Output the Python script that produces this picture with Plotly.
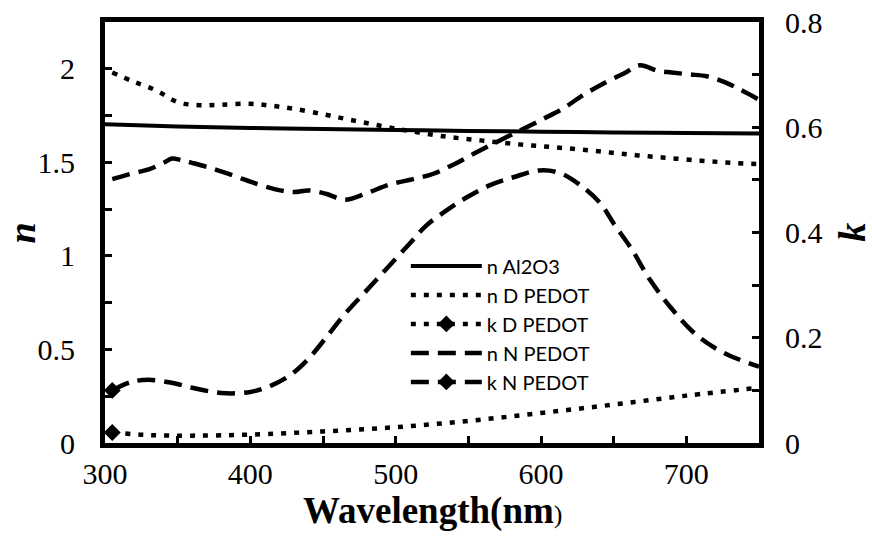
import plotly.graph_objects as go

# ---- data ----
wl_al = [300, 350, 400, 450, 500, 550, 600, 650, 700, 750]
n_al = [1.703, 1.692, 1.684, 1.678, 1.673, 1.668, 1.664, 1.660, 1.657, 1.654]

wl_nd = [305, 320, 335, 350, 365, 380, 400, 415, 430, 450, 465, 480, 495, 510,
         535, 560, 585, 610, 635, 660, 685, 710, 730, 750]
n_nd = [1.98, 1.93, 1.885, 1.822, 1.805, 1.808, 1.813, 1.802, 1.786, 1.757, 1.733,
        1.71, 1.687, 1.667, 1.637, 1.616, 1.596, 1.58, 1.563, 1.542, 1.525, 1.509,
        1.498, 1.49]

wl_kd = [305, 330, 360, 400, 450, 500, 550, 600, 650, 700, 750]
k_kd = [0.02, 0.015, 0.014, 0.016, 0.022, 0.03, 0.042, 0.057, 0.073, 0.09, 0.105]

wl_nn = [305, 320, 330, 340, 346, 352, 360, 372, 388, 402, 418, 430, 440, 452, 465,
         480, 496, 512, 526, 541, 556, 572, 588, 602, 615, 629, 643, 657, 668, 680,
         690, 702, 714, 726, 737, 750]
n_nn = [1.41, 1.443, 1.462, 1.496, 1.52, 1.513, 1.497, 1.471, 1.43, 1.391, 1.354,
        1.341, 1.35, 1.332, 1.30, 1.335, 1.382, 1.41, 1.439, 1.493, 1.555, 1.618,
        1.68, 1.734, 1.787, 1.859, 1.921, 1.975, 2.019, 1.99, 1.98, 1.97, 1.96,
        1.93, 1.889, 1.835]

wl_kn = [305, 318, 330, 345, 360, 380, 400, 415, 428, 440, 452, 465, 480, 495, 510,
         521, 535, 549, 565, 581, 599, 613, 627, 641, 650, 662, 675, 690, 705, 720,
         735, 750]
k_kn = [0.10, 0.116, 0.12, 0.115, 0.105, 0.095, 0.097, 0.11, 0.13, 0.16, 0.2, 0.245,
        0.29, 0.335, 0.38, 0.413, 0.442, 0.467, 0.49, 0.505, 0.518, 0.513, 0.49,
        0.455, 0.417, 0.37, 0.31, 0.255, 0.21, 0.18, 0.16, 0.145]

names = ["n Al2O3", "n D PEDOT", "k D PEDOT", "n N PEDOT", "k N PEDOT"]
x_title = "<b>Wavelength(nm<span style='font-size:26px;font-weight:normal'>)</span></b>"
n_title = "<b><i>n</i></b>"
k_title = "<b><i>k</i></b>"

DOT = "5px,8px"
DASH = "18px,9px"
serif = "Liberation Serif"


def first_only(n):
    return ["black"] + ["rgba(0,0,0,0)"] * (n - 1)


fig = go.Figure()
fig.add_trace(go.Scatter(x=wl_al, y=n_al, name=names[0], mode="lines",
                         line=dict(color="black", width=4, shape="spline")))
fig.add_trace(go.Scatter(x=wl_nd, y=n_nd, name=names[1], mode="lines",
                         line=dict(color="black", width=4.5, dash=DOT, shape="spline")))
fig.add_trace(go.Scatter(x=wl_kd, y=k_kd, name=names[2], mode="lines+markers", yaxis="y2",
                         line=dict(color="black", width=4.5, dash=DOT, shape="spline"),
                         marker=dict(symbol="diamond", size=13, color=first_only(len(wl_kd)))))
fig.add_trace(go.Scatter(x=wl_nn, y=n_nn, name=names[3], mode="lines",
                         line=dict(color="black", width=4.5, dash=DASH, shape="spline")))
fig.add_trace(go.Scatter(x=wl_kn, y=k_kn, name=names[4], mode="lines+markers", yaxis="y2",
                         line=dict(color="black", width=4.5, dash=DASH, shape="spline"),
                         marker=dict(symbol="diamond", size=13, color=first_only(len(wl_kn)))))

axis_common = dict(showline=True, linecolor="black", linewidth=5, ticks="inside",
                   ticklen=7, tickwidth=3, tickcolor="black", showgrid=False,
                   zeroline=False, automargin=False,
                   tickfont=dict(family=serif, size=30, color="black"))
minor_common = dict(ticks="inside", ticklen=7, tickwidth=3, tickcolor="black")

fig.update_layout(
    width=872, height=536,
    margin=dict(l=105, r=113, t=22, b=93),
    paper_bgcolor="white", plot_bgcolor="white",
    showlegend=True,
    legend=dict(x=0.46, y=0.467, xanchor="left", yanchor="top", itemwidth=71,
                bgcolor="rgba(0,0,0,0)", font=dict(family="Lato", size=20, color="black"),
                tracegroupgap=0),
    xaxis=dict(range=[300, 750], dtick=100, tick0=300, mirror=True,
               minor=dict(dtick=50, **minor_common),
               ticklabelstandoff=0, **axis_common),
    yaxis=dict(range=[0, 2.25], dtick=0.5, tick0=0,
               minor=dict(dtick=0.25, **minor_common),
               ticklabelstandoff=19, **axis_common),
    yaxis2=dict(range=[0, 0.8], dtick=0.2, tick0=0, overlaying="y", side="right",
                minor=dict(dtick=0.1, **minor_common),
                ticklabelstandoff=15, **axis_common),
    annotations=[
        dict(text=x_title, xref="paper", yref="paper", x=0.5, y=-0.162,
             xanchor="center", yanchor="middle", showarrow=False,
             font=dict(family=serif, size=37, color="black")),
        dict(text=n_title, xref="paper", yref="paper", x=-0.127, y=0.5,
             xanchor="center", yanchor="middle", showarrow=False, textangle=-90,
             font=dict(family=serif, size=38, color="black")),
        dict(text=k_title, xref="paper", yref="paper", x=1.141, y=0.5,
             xanchor="center", yanchor="middle", showarrow=False, textangle=-90,
             font=dict(family=serif, size=38, color="black")),
    ],
)

fig.write_html("out.html")
